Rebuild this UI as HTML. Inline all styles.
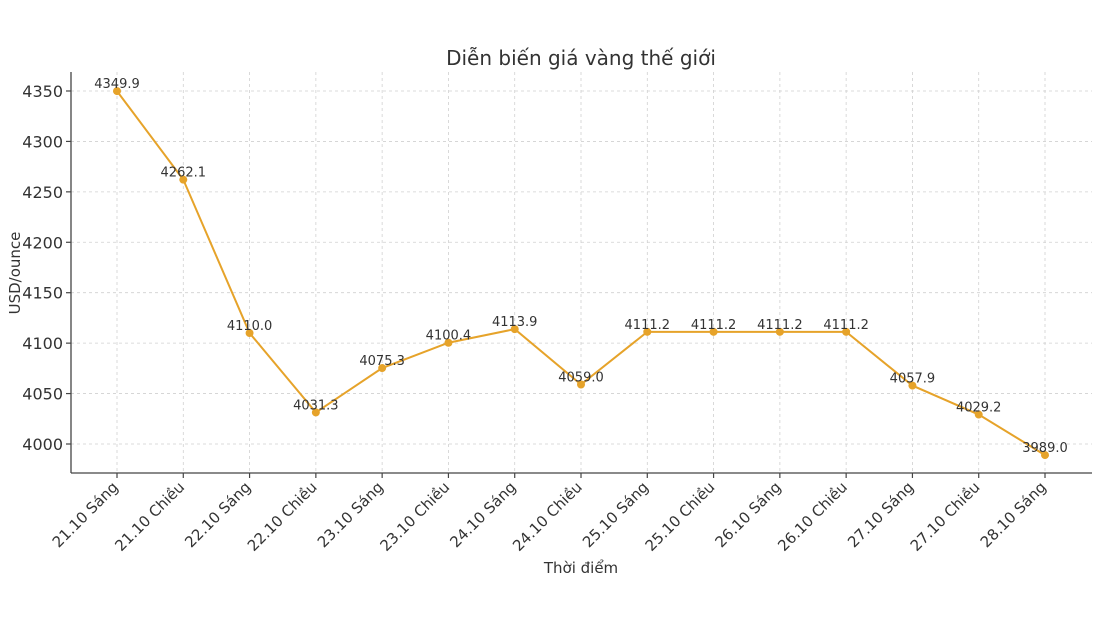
<!DOCTYPE html>
<html><head><meta charset="utf-8"><style>body{margin:0;background:#fff}svg{display:block}</style></head>
<body>
<svg width="1094" height="622" xmlns="http://www.w3.org/2000/svg" font-family="'DejaVu Sans','Liberation Sans',sans-serif">
<rect width="1094" height="622" fill="#fff"/>
<g stroke="#d0d0d0" stroke-width="0.8" stroke-dasharray="3,3" id="grid"></g>
<g id="plot"></g>
<line x1="71" y1="72" x2="71" y2="473" stroke="#444" stroke-width="1.3"/>
<line x1="71" y1="473" x2="1092" y2="473" stroke="#444" stroke-width="1.3"/>
<text x="581" y="65" font-size="20" text-anchor="middle" fill="#333">Diễn biến giá vàng thế giới</text>
<text x="581" y="573" font-size="15" text-anchor="middle" fill="#333">Thời điểm</text>
<text transform="translate(20,273) rotate(-90)" font-size="15" text-anchor="middle" fill="#333">USD/ounce</text>
<script>
var vals=[4349.9,4262.1,4110.0,4031.3,4075.3,4100.4,4113.9,4059.0,4111.2,4111.2,4111.2,4111.2,4057.9,4029.2,3989.0];
var labs=["21.10 Sáng","21.10 Chiều","22.10 Sáng","22.10 Chiều","23.10 Sáng","23.10 Chiều","24.10 Sáng","24.10 Chiều","25.10 Sáng","25.10 Chiều","26.10 Sáng","26.10 Chiều","27.10 Sáng","27.10 Chiều","28.10 Sáng"];
var ns="http://www.w3.org/2000/svg",svg=document.querySelector('svg'),g=document.getElementById('grid'),p=document.getElementById('plot');
function X(i){return 117+i*66.286}function Y(v){return 444-(v-4000)*1.0086}
function el(t,a,par,txt){var e=document.createElementNS(ns,t);for(var k in a)e.setAttribute(k,a[k]);if(txt!==undefined)e.textContent=txt;(par||svg).appendChild(e);return e}
for(var v=4000;v<=4350;v+=50){var y=Y(v);el('line',{x1:71,x2:1092,y1:y,y2:y},g);el('line',{x1:66,x2:71,y1:y,y2:y,stroke:'#444','stroke-width':1.2});el('text',{x:63,y:y+6,'font-size':16,'text-anchor':'end',fill:'#333'},svg,v)}
for(var i=0;i<15;i++){var x=X(i);el('line',{x1:x,x2:x,y1:72,y2:473},g);el('line',{x1:x,x2:x,y1:473,y2:478,stroke:'#444','stroke-width':1.2});el('text',{transform:'translate('+(x+2)+',488) rotate(-45)','font-size':15,'text-anchor':'end',fill:'#333'},svg,labs[i])}
var pts=vals.map(function(v,i){return X(i)+','+Y(v)}).join(' ');
el('polyline',{points:pts,fill:'none',stroke:'#e6a32a','stroke-width':2},p);
vals.forEach(function(v,i){el('circle',{cx:X(i),cy:Y(v),r:4,fill:'#e6a32a'},p);el('text',{x:X(i),y:Y(v)-3,'font-size':13,'text-anchor':'middle',fill:'#333'},p,v.toFixed(1))});
</script>
</svg>
</body></html>
